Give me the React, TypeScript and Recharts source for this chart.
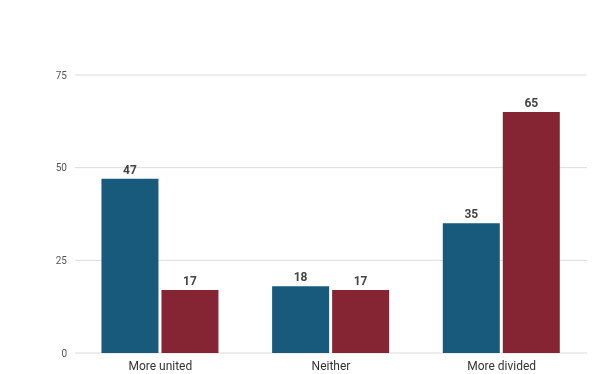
import { Bar, BarChart, CartesianGrid, LabelList, XAxis, YAxis } from 'recharts';

const categories = ['More united', 'Neither', 'More divided'];
const blueValues = [47, 18, 35];
const redValues = [17, 17, 65];
const yTicks = [0, 25, 50, 75];

const data = categories.map((label, i) => ({ label, blue: blueValues[i], red: redValues[i] }));

const labelStyle = { fill: '#444', fontSize: 12, fontWeight: 700 };

export default function App() {
  return (
    <div style={{ position: 'fixed', top: 0, left: 0, width: 612, height: 374, fontFamily: 'Roboto, sans-serif' }}>
      <BarChart
        width={612}
        height={374}
        data={data}
        margin={{ top: 75, right: 25, bottom: 0, left: 0 }}
        barCategoryGap="15.5%"
        barGap={3}
      >
        <CartesianGrid vertical={false} stroke="#dcdcdc" />
        <XAxis
          dataKey="label"
          axisLine={false}
          tickLine={false}
          height={21}
          tick={{ fill: '#333', fontSize: 12 }}
        />
        <YAxis
          domain={[0, 75]}
          ticks={yTicks}
          axisLine={false}
          tickLine={false}
          width={75}
          tick={{ fill: '#555', fontSize: 10 }}
        />
        <Bar dataKey="blue" fill="#175a7b" isAnimationActive={false}>
          <LabelList dataKey="blue" position="top" style={labelStyle} />
        </Bar>
        <Bar dataKey="red" fill="#852533" isAnimationActive={false}>
          <LabelList dataKey="red" position="top" style={labelStyle} />
        </Bar>
      </BarChart>
    </div>
  );
}
